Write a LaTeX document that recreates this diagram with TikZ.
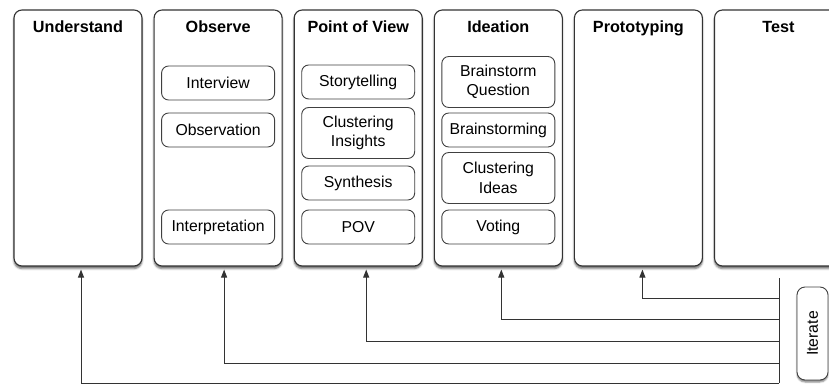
\documentclass[tikz,border=0pt]{standalone}
\usepackage{fontspec}
\setmainfont{Liberation Sans}
\usetikzlibrary{arrows.meta, positioning, shadows, shadows.blur}

\begin{document}
\begin{tikzpicture}[
  x=1pt, y=-1pt,
  stage/.style={draw=black!80, line width=1.1pt, rounded corners=8pt, fill=white,
                minimum width=128pt, minimum height=256pt,
                blur shadow={shadow xshift=0pt, shadow yshift=-2.5pt,
                             shadow blur radius=2pt, shadow opacity=60}},
  title/.style={font=\fontsize{16.2}{18}\selectfont\bfseries,
                text height=12pt, text depth=3pt, inner sep=0pt},
  task/.style={draw=black!75, line width=0.9pt, rounded corners=7pt, align=center,
               minimum width=113pt, minimum height=34pt, inner sep=1pt,
               font=\fontsize{15.8}{19.5}\selectfont},
  tall/.style={task, minimum height=51pt},
  link/.style={draw=black!80, line width=1pt},
  arr/.style={link, -{Triangle[length=8pt, width=6pt]}, shorten >=3pt},
  node distance=11pt
]
\useasboundingbox (0,0) rectangle (829,385);

\node[stage] (und) at (78,138) {};
\node[stage, right=of und] (obs) {};
\node[stage, right=of obs] (pov) {};
\node[stage, right=of pov] (idea) {};
\node[stage, right=of idea] (proto) {};
\node[stage, right=of proto] (test) {};

\node[title] (undT) at ([yshift=-18.5pt]und.north) {Understand};
\node[title] (obsT) at ([yshift=-18.5pt]obs.north) {Observe};
\node[title] (povT) at ([yshift=-18.5pt]pov.north) {Point of View};
\node[title] (ideaT) at ([yshift=-18.5pt]idea.north) {Ideation};
\node[title] (protoT) at ([yshift=-18.5pt]proto.north) {Prototyping};
\node[title] (testT) at ([yshift=-18.5pt]test.north) {Test};

\node[task] (interview) at (obs |- 0,83) {Interview};
\node[task] (observation) at (obs |- 0,130) {Observation};
\node[task] (interpretation) at (obs |- 0,227) {Interpretation};

\node[task] (story) at (pov |- 0,82) {Storytelling};
\node[tall] (insights) at (pov |- 0,133) {Clustering\\Insights};
\node[task] (synth) at (pov |- 0,183) {Synthesis};
\node[task] (povbox) at (pov |- 0,227) {POV};

\node[tall] (question) at (idea |- 0,82) {Brainstorm\\Question};
\node[task] (brainstorm) at (idea |- 0,130) {Brainstorming};
\node[tall] (ideas) at (idea |- 0,178) {Clustering\\Ideas};
\node[task] (voting) at (idea |- 0,227) {Voting};

\node[task, rotate=90, minimum width=93pt, minimum height=31pt, rounded corners=8pt,
      blur shadow={shadow xshift=0pt, shadow yshift=-2pt, shadow blur radius=1.5pt,
                   shadow opacity=50}, fill=white] (iter) at (812.5,333.5) {Iterate};

\coordinate (loop) at (779,278);
\foreach \n/\y in {proto/298, idea/319, pov/341, obs/363, und/383}
  \coordinate (back-\n) at (779,\y);
\draw[link] (loop) -- (back-und);
\foreach \n/\dx in {proto/4, idea/3, pov/8, obs/6, und/3}
  \draw[arr] (back-\n) -| ([xshift=\dx pt]\n.south);
\end{tikzpicture}
\end{document}
